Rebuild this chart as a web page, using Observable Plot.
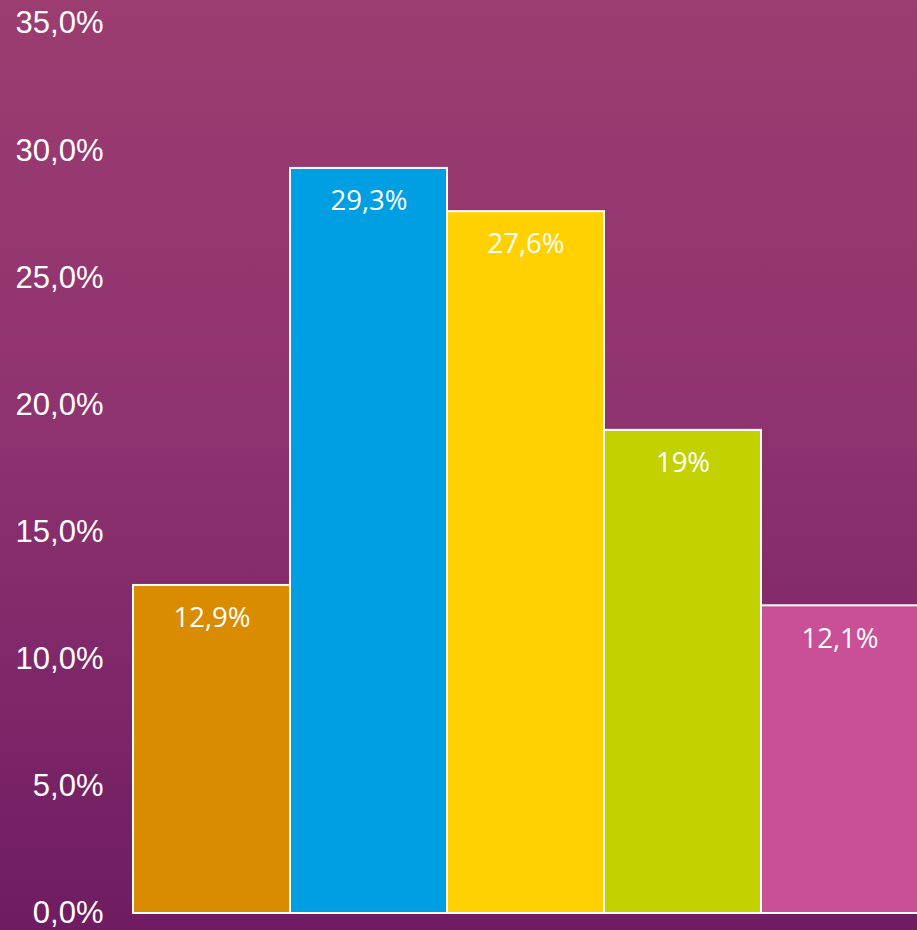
<!DOCTYPE html>
<html>
<head>
<meta charset="utf-8">
<script src="https://cdn.jsdelivr.net/npm/d3@7"></script>
<script src="https://cdn.jsdelivr.net/npm/@observablehq/plot@0.6"></script>
<style>
  html, body { margin: 0; padding: 0; }
  body { width: 917px; height: 930px; overflow: hidden;
         background: linear-gradient(to bottom, #9c3d70 0%, #8f3370 45%, #6f1c62 100%); }
  #chart svg { display: block; }
</style>
</head>
<body>
<div id="chart"></div>
<script>
const categories = ["1", "2", "3", "4", "5"];
const values = [12.9, 29.3, 27.6, 19, 12.1];
const colors = ["#d98c00", "#009fe3", "#ffd100", "#c3d100", "#c94f96"];
const yTicks = [0, 5, 10, 15, 20, 25, 30, 35];

const data = categories.map((c, i) => ({
  cat: c,
  value: values[i],
  color: colors[i],
  label: String(values[i]).replace(".", ",") + "%"
}));

const chart = Plot.plot({
  width: 917,
  height: 930,
  marginLeft: 132,
  marginRight: -2,
  marginTop: 23,
  marginBottom: 17,
  style: { background: "transparent", color: "white", overflow: "visible" },
  x: { domain: categories, padding: 0, axis: null },
  y: { domain: [0, 35], axis: null, label: null },
  marks: [
    Plot.barY(data, { x: "cat", y: "value", fill: "color", stroke: "white", strokeWidth: 2, inset: 0 }),
    Plot.text(data, { x: "cat", y: "value", text: "label", dy: 33, fill: "white",
      fontFamily: "Open Sans", fontSize: 27.5 }),
    Plot.axisY(yTicks, { tickSize: 0, tickPadding: 29, fontSize: 31, label: null,
      fontFamily: "Liberation Sans, Arial, sans-serif", fill: "white",
      tickFormat: d => d.toFixed(1).replace(".", ",") + "%" })
  ]
});
document.getElementById("chart").appendChild(chart);
</script>
</body>
</html>
